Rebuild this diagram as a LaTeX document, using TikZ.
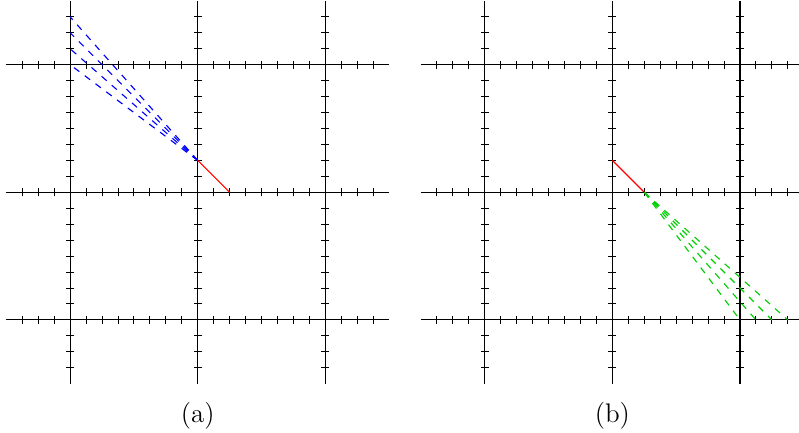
\documentclass[tikz,border=0pt]{standalone}
\usepackage{tikz}

\begin{document}
\begin{tikzpicture}[
    x=0.25cm, y=0.25cm,
    gridline/.style={draw=black, line width=0.45pt},
    tickmark/.style={draw=black, line width=0.45pt},
    segment/.style={draw=red, line width=0.5pt},
    fanblue/.style={draw=blue, dashed, line width=0.5pt},
    fangreen/.style={draw=green!80!black, dashed, line width=0.5pt},
    caption/.style={font=\large, anchor=base}
]
\useasboundingbox (-12.40,-15.03) rectangle (37.70,12.06);
% grid with ticks, one per panel
\foreach \ox in {0,26} {
  \begin{scope}[shift={(\ox,0)}]
    \foreach \c in {-8,0,8} {
      \draw[gridline] (-12,\c) -- (12,\c);
      \draw[gridline] (\c,-12) -- (\c,12);
      \foreach \t in {-11,...,11} {
        \draw[tickmark] (\t,\c-0.25) -- (\t,\c+0.25);
        \draw[tickmark] (\c-0.25,\t) -- (\c+0.25,\t);
      }
    }
  \end{scope}
}
% panel (a)
\coordinate (apexa) at (0,2);
\coordinate (enda) at (2,0);
\foreach \k in {0,...,3} {
  \coordinate (fana\k) at (-8,8+\k);
  \draw[fanblue] (apexa) -- (fana\k);
}
\draw[segment] (apexa) -- (enda);
\node[caption] (labela) at (0,-14.43) {(a)};
% panel (b)
\coordinate (startb) at (26,2);
\coordinate (apexb) at (28,0);
\foreach \k in {0,...,3} {
  \coordinate (fanb\k) at (34+\k,-8);
  \draw[fangreen] (apexb) -- (fanb\k);
}
\draw[segment] (startb) -- (apexb);
\node[caption] (labelb) at (26,-14.43) {(b)};
\end{tikzpicture}
\end{document}
